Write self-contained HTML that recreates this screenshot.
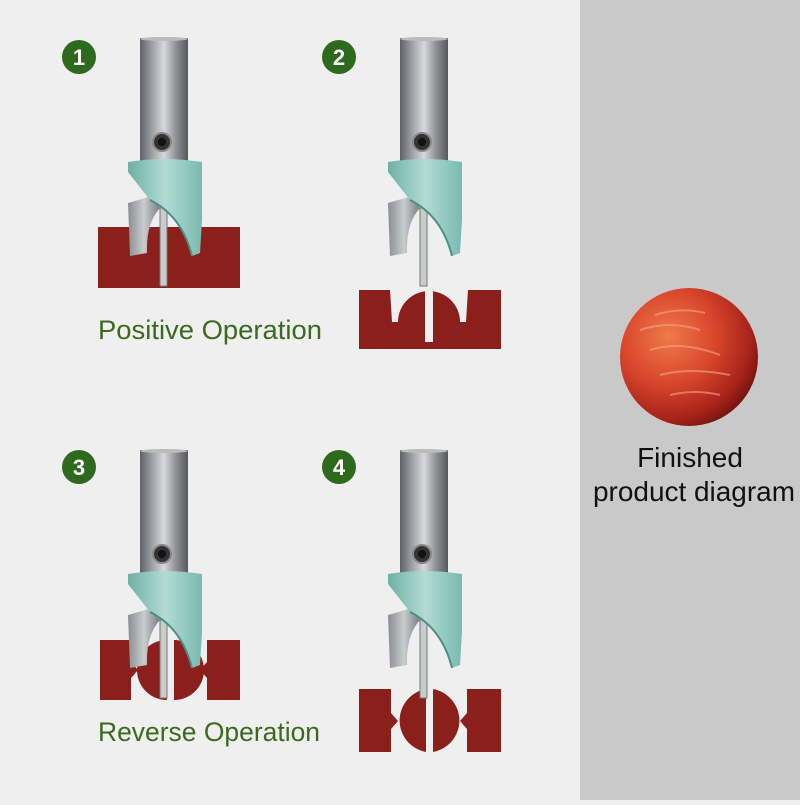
<!DOCTYPE html>
<html><head><meta charset="utf-8"><style>
html,body{margin:0;padding:0;}
body{width:800px;height:800px;overflow:hidden;background:#efefef;}
</style></head><body>
<svg width="800" height="800" viewBox="0 0 800 800" xmlns="http://www.w3.org/2000/svg">
<defs>
<linearGradient id="sh" x1="0" x2="1" y1="0" y2="0">
<stop offset="0" stop-color="#5e6266"/><stop offset="0.3" stop-color="#a9adb0"/><stop offset="0.5" stop-color="#d6d8da"/><stop offset="0.75" stop-color="#8d9194"/><stop offset="1" stop-color="#55595c"/>
</linearGradient>
<linearGradient id="col" x1="0" x2="1" y1="0" y2="0">
<stop offset="0" stop-color="#6fb0a5"/><stop offset="0.5" stop-color="#b2dbd4"/><stop offset="1" stop-color="#79bab0"/>
</linearGradient>
<linearGradient id="bl" x1="0" x2="1" y1="0" y2="0">
<stop offset="0" stop-color="#8a8e90"/><stop offset="0.5" stop-color="#c9cccd"/><stop offset="1" stop-color="#7a7e80"/>
</linearGradient>
<radialGradient id="ball" cx="0.35" cy="0.35" r="0.7">
<stop offset="0" stop-color="#f07a4a"/><stop offset="0.5" stop-color="#d8452b"/><stop offset="0.85" stop-color="#a8231a"/><stop offset="1" stop-color="#7a1510"/>
</radialGradient>
<g id="bit">
<path d="M-12,165 L12,158 L20,170 Q6,185 7,215 L-10,218 Z" fill="url(#bl)"/>
<rect x="20" y="170" width="7" height="78" fill="#c9cccd" stroke="#777" stroke-width="1"/>
<rect x="0" y="0" width="48" height="126" fill="url(#sh)"/>
<ellipse cx="24" cy="1" rx="24" ry="2" fill="#bbb"/>
<circle cx="22" cy="104" r="9" fill="#333" stroke="#888" stroke-width="2"/>
<circle cx="22" cy="104" r="4" fill="#111"/>
<path d="M-12,124 Q24,118 62,124 L62,182 L60,215 L52,218 Q42,178 10,162 L-12,134 Z" fill="url(#col)"/>
<path d="M10,162 Q42,178 52,218" fill="none" stroke="#4c8f83" stroke-width="2"/>
</g>
</defs>
<rect x="580" y="0" width="220" height="800" fill="#c9c9c9"/>

<g font-family="Liberation Sans, sans-serif" font-size="22" fill="#fff" text-anchor="middle" font-weight="bold">
<circle cx="79" cy="57" r="17" fill="#2d6a1e"/><text x="79" y="65">1</text>
<circle cx="339" cy="57" r="17" fill="#2d6a1e"/><text x="339" y="65">2</text>
<circle cx="79" cy="467" r="17" fill="#2d6a1e"/><text x="79" y="475">3</text>
<circle cx="339" cy="467" r="17" fill="#2d6a1e"/><text x="339" y="475">4</text>
</g>

<rect x="98" y="227" width="142" height="61" fill="#8b1f1c"/>
<use href="#bit" x="140" y="38"/>

<path d="M359,290 H390 L392,322 H398 A31,31 0 0 1 460,322 H466 L468,290 H501 V349 H359 Z" fill="#8b1f1c"/>
<rect x="425" y="288" width="8" height="54" fill="#efefef"/>
<use href="#bit" x="400" y="38"/>

<path d="M100,640 H131 V662 L138,670 L131,678 V700 H100 Z" fill="#8b1f1c"/>
<path d="M240,640 H207 V662 L200,670 L207,678 V700 H240 Z" fill="#8b1f1c"/>
<path d="M167,640 A30,30 0 0 0 167,700 Z" fill="#8b1f1c"/>
<path d="M174,640 A30,30 0 0 1 174,700 Z" fill="#8b1f1c"/>
<use href="#bit" x="140" y="450"/>

<path d="M359,689 H391 V713 L398,721 L391,729 V752 H359 Z" fill="#8b1f1c"/>
<path d="M501,689 H467 V713 L460,721 L467,729 V752 H501 Z" fill="#8b1f1c"/>
<path d="M426,689 A32,32 0 0 0 426,752 Z" fill="#8b1f1c"/>
<path d="M433,689 A32,32 0 0 1 433,752 Z" fill="#8b1f1c"/>
<use href="#bit" x="400" y="450"/>

<g font-family="Liberation Sans, sans-serif" font-size="27" fill="#3b6a1f">
<text x="98" y="339" textLength="224" lengthAdjust="spacingAndGlyphs">Positive Operation</text>
<text x="98" y="741" textLength="222" lengthAdjust="spacingAndGlyphs">Reverse Operation</text>
</g>

<circle cx="689" cy="357" r="69" fill="url(#ball)"/>
<g stroke="#f4a48a" stroke-width="2" opacity="0.6" fill="none">
<path d="M640,330 q30,-10 60,0"/><path d="M650,350 q30,-10 70,5"/><path d="M660,375 q30,-8 70,0"/><path d="M670,395 q25,-6 50,0"/><path d="M655,315 q25,-8 50,-2"/>
</g>
<g font-family="Liberation Sans, sans-serif" font-size="28" fill="#111" text-anchor="middle">
<text x="690" y="467">Finished</text>
<text x="694" y="501" textLength="202" lengthAdjust="spacingAndGlyphs">product diagram</text>
</g>
</svg>
</body></html>
